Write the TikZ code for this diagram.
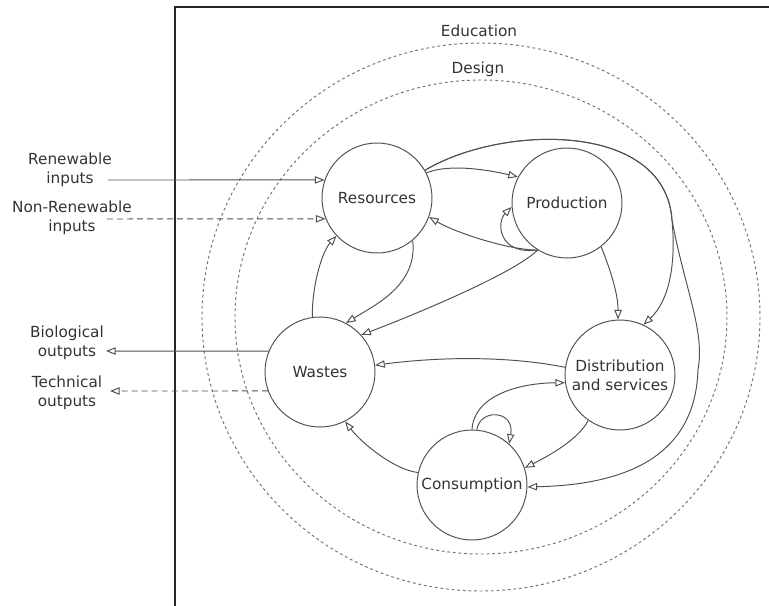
\documentclass[tikz,border=0pt]{standalone}
\usepackage{fontspec}
\setmainfont{DejaVu Sans}
\usetikzlibrary{arrows.meta}
\definecolor{ln}{HTML}{505050}
\definecolor{tx}{HTML}{333333}

\begin{document}
\begin{tikzpicture}[x=0.02cm,y=-0.02cm,>={Triangle[open,length=5.5pt,width=4.2pt]},
	font=\fontsize{8.7pt}{10.9pt}\selectfont,
	stage/.style={circle,draw=ln,line width=0.55pt,minimum size=2.2cm,inner sep=0pt,align=center,text=tx},
	flow/.style={->,draw=ln,line width=0.55pt},
	dflow/.style={flow,dash pattern=on 3.4pt off 2.3pt},
	ring/.style={draw=ln!80,line width=0.55pt,dash pattern=on 1.6pt off 1.6pt},
	lbl/.style={align=center,text=tx,inner sep=1pt}]
	\useasboundingbox (0,0) rectangle (769,606);
	
	%rings
	\draw[ring] (481,317) ellipse (279 and 274);
	\draw[ring] (481,317) ellipse (246 and 237);
	\node[lbl] (edu) at (479,31) {Education};
	\node[lbl] (des) at (478,69) {Design};
	
	%frame
	\draw[black!85,line width=1pt] (175,606) -- (175,7) -- (769,7);
	
	%stages
	\node[stage] (res) at (377,198) {Resources};
	\node[stage] (prod) at (567,203) {Production};
	\node[stage] (wst) at (320,372) {Wastes};
	\node[stage] (dist) at (620,375) {Distribution\\and services};
	\node[stage] (cons) at (472,485) {Consumption};
	
	%labels
	\node[lbl] (ren) at (70,170) {Renewable\\inputs};
	\node[lbl] (nonren) at (72,218) {Non-Renewable\\inputs};
	\node[lbl] (bio) at (67,343) {Biological\\outputs};
	\node[lbl] (tech) at (67,393) {Technical\\outputs};
	\coordinate (renin) at (108,180);
	\coordinate (nonin) at (107,219);
	\coordinate (bioout) at (106,351);
	\coordinate (techout) at (110,391);
	
	%Inputs--Resources
	\draw[flow] (renin) -- (res.161);
	\draw[dflow] (nonin) -- (res.202);
	
	%Wastes--Outputs
	\draw[flow] (wst.158) -- (bioout);
	\draw[dflow] (wst.200) -- (techout);
	
	%Resources--others
	\draw[flow] (res.27) .. controls +(25,-10) and +(-25,-6) .. (prod.152);
	\draw[flow] (res.30) .. controls (500,125) and (665,120) .. (672,220)
		.. controls (676,262) and (670,300) .. (dist.65);
	\draw[flow] (res.30) .. controls (500,125) and (665,120) .. (672,220)
		.. controls (685,290) and (705,330) .. (698,370)
		.. controls (695,460) and (620,485) .. (cons.358);
	\draw[flow] (res.-50) .. controls (418,285) and (375,305) .. (wst.62);
	
	%Production--others
	\draw[flow] (prod.238) .. controls +(-40,5) and +(-15,15) .. (prod.184);	%loop
	\draw[flow] (prod.238) .. controls +(-30,0) and +(25,15) .. (res.-20);
	\draw[flow] (prod.238) .. controls +(-25,25) and +(40,-15) .. (wst.42);
	\draw[flow] (prod.-52) .. controls +(10,25) and +(0,-25) .. (dist.92);
	
	%Wastes--Resources
	\draw[flow] (wst.98) .. controls (312,285) and (322,252) .. (res.223);
	
	%Distribution--others
	\draw[flow] (dist.172) .. controls +(-60,-12) and +(60,-8) .. (wst.7);
	\draw[flow] (dist.235) .. controls +(-10,20) and +(20,-10) .. (cons.18);
	
	%Consumption--others
	\draw[flow] (cons.90) .. controls (474,395) and (520,383) .. (dist.188);
	\draw[flow] (cons.85) .. controls (480,408) and (515,410) .. (cons.48);	%loop
	\draw[flow] (cons.167) .. controls +(-25,-3) and +(15,20) .. (wst.-63);
\end{tikzpicture}
\end{document}
